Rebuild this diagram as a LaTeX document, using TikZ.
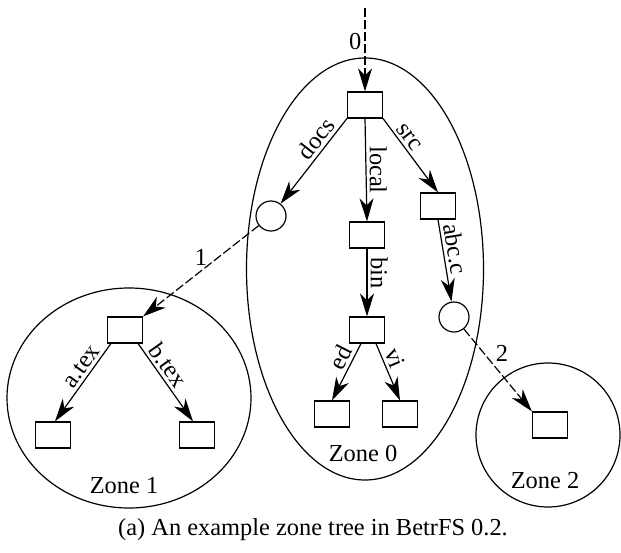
\documentclass[tikz,border=0pt]{standalone}
\usepackage{fontspec}
\setmainfont{Liberation Serif}
\usetikzlibrary{arrows.meta,calc}

\tikzset{
  dir/.style={rectangle, draw, line width=0.6pt, minimum width=17.5pt, minimum height=13pt, inner sep=0pt},
  link/.style={circle, draw, line width=0.6pt, minimum size=15pt, inner sep=0pt},
  zone/.style={draw, line width=0.6pt},
  edge/.style={draw, line width=0.6pt, -{Stealth[length=11.5pt, width=7pt, inset=3.5pt]}},
  cross/.style={edge, dash pattern=on 4.5pt off 1.5pt},
  lbl/.style={font=\fontsize{12.2}{14}\selectfont, inner sep=1.5pt},
}

\begin{document}
\begin{tikzpicture}[x=0.5pt, y=-0.5pt]
  \useasboundingbox (0,0) rectangle (621,552);

  % zone outlines
  \draw[zone] (365,269) ellipse [x radius=118.5, y radius=211];
  \draw[zone] (129,398) ellipse [x radius=122, y radius=110];
  \draw[zone] (548,435) circle [radius=72];

  \node[lbl] (z0) at (363,453) {Zone 0};
  \node[lbl] (z1) at (124,486) {Zone 1};
  \node[lbl] (z2) at (545,481) {Zone 2};

  % zone 0 tree
  \coordinate (entry) at (365,8);
  \node[dir]  (root)  at (365,105) {};
  \node[link] (docs)  at (271,216) {};
  \node[dir]  (local) at (367,235) {};
  \node[dir]  (src)   at (438,206) {};
  \node[dir]  (bin)   at (367,330) {};
  \node[link] (abcc)  at (454,317) {};
  \node[dir]  (ed)    at (332,414) {};
  \node[dir]  (vi)    at (400,414) {};

  % zone 1 tree
  \node[dir] (r1)   at (125,330) {};
  \node[dir] (atex) at (53,435) {};
  \node[dir] (btex) at (197,435) {};

  % zone 2 tree
  \node[dir] (r2) at (550,425) {};

  % edges inside zone 0
  \draw[cross] (entry) -- node[lbl, pos=0.4, anchor=east] {0} (root.north);
  \draw[edge] (root.south west) -- node[lbl, sloped, above, pos=0.32] {docs} (docs);
  \draw[edge] (root.south) -- node[lbl, rotate=-90, anchor=south, pos=0.5] {local} (local.north);
  \draw[edge] (root.south east) -- node[lbl, sloped, above, pos=0.33] {src} (src.north);
  \draw[edge] (local.south) -- node[lbl, rotate=-90, anchor=south, pos=0.36] {bin} (bin.north);
  \draw[edge] (src.south) -- node[lbl, sloped, above, pos=0.38] {abc.c} (abcc);
  \draw[edge] ([xshift=-3pt]bin.south) -- node[lbl, sloped, above, pos=0.34] {ed} (ed.north);
  \draw[edge] ([xshift=4.5pt]bin.south) -- node[lbl, sloped, above, pos=0.34] {vi} (vi.north);

  % edges inside zone 1
  \draw[edge] ([xshift=2pt]r1.south west) -- node[lbl, sloped, above, pos=0.37] {a.tex} ([xshift=1pt]atex.north);
  \draw[edge] ([xshift=-2.5pt]r1.south east) -- node[lbl, sloped, above, pos=0.37] {b.tex} ([xshift=-2pt]btex.north);

  % links between zones
  \draw[cross] (docs) -- node[lbl, pos=0.5, above=1pt] {1} (r1.north east);
  \draw[cross] (abcc) -- node[lbl, pos=0.3, right=4pt] {2} (r2.north west);

  \node[lbl] (caption) at (313,530) {(a) An example zone tree in BetrFS 0.2.};
\end{tikzpicture}
\end{document}
